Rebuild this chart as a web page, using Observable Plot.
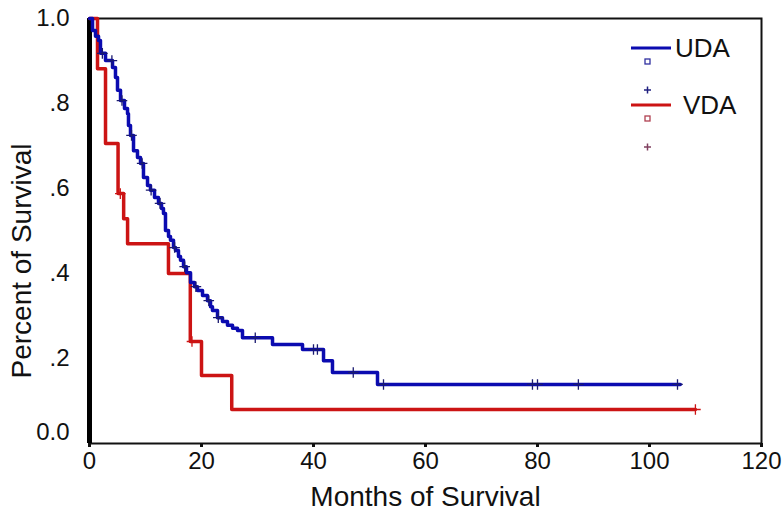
<!DOCTYPE html>
<html><head><meta charset="utf-8">
<script src="https://cdn.jsdelivr.net/npm/d3@7"></script>
<script src="https://cdn.jsdelivr.net/npm/@observablehq/plot@0.6"></script>
<style>
body{margin:0;background:#fff;}
#chart{position:relative;width:782px;height:513px;}
</style></head><body><div id="chart"></div>
<script>
// ---- data ----
const xTicks = [0, 20, 40, 60, 80, 100, 120];
const yTicks = [0.2, 0.4, 0.6, 0.8, 1.0];
const yTickLabels = [".2", ".4", ".6", ".8", "1.0"];
const yZeroLabel = "0.0";
const xLabel = "Months of Survival";
const yLabel = "Percent of Survival";
const seriesNames = ["UDA", "VDA"];

const udaTime = [0, 0.54, 1.07, 1.61, 1.96, 2.86, 4.11, 4.64, 5.0, 5.54, 6.25, 6.79, 6.96, 7.32, 7.86, 8.57, 9.11, 9.64, 10.36, 10.89, 11.61, 12.32, 12.86, 13.21, 13.57, 14.11, 14.46, 15.0, 15.36, 15.89, 16.25, 16.79, 17.32, 18.04, 18.75, 19.29, 20.18, 21.07, 21.61, 21.96, 22.86, 23.75, 24.64, 25.54, 26.43, 27.32, 32.68, 38.04, 41.79, 43.39, 51.43, 105.5];
const udaSurv = [1.0, 0.972, 0.958, 0.948, 0.918, 0.901, 0.885, 0.861, 0.831, 0.807, 0.788, 0.776, 0.748, 0.725, 0.689, 0.673, 0.659, 0.626, 0.607, 0.596, 0.579, 0.565, 0.553, 0.541, 0.501, 0.487, 0.478, 0.461, 0.454, 0.44, 0.431, 0.416, 0.402, 0.379, 0.369, 0.36, 0.348, 0.336, 0.322, 0.313, 0.296, 0.287, 0.278, 0.271, 0.266, 0.249, 0.233, 0.221, 0.195, 0.167, 0.139, 0.139];
const udaCensor = [2.3, 4.0, 5.8, 7.5, 9.4, 11.0, 12.6, 15.2, 17.0, 19.0, 21.3, 23.0, 29.6, 40.0, 40.7, 47.1, 52.5, 79.1, 80.0, 87.3, 105.0];

const vdaTime = [0, 1.43, 2.86, 5.1, 6.1, 6.8, 14.1, 18.0, 20.0, 25.4, 108.2];
const vdaSurv = [1.0, 0.882, 0.706, 0.588, 0.529, 0.47, 0.40, 0.24, 0.16, 0.08, 0.08];
const vdaCensor = [5.5, 18.3, 108.2];

// ---- build tables ----
const steps = (t, s) => t.map((d, i) => ({t: d, s: s[i]}));
const censor = (c, t, s) => c.map(d => ({t: d, s: s[Math.max(0, d3.bisectRight(t, d) - 1)]}));
const uda = steps(udaTime, udaSurv), vda = steps(vdaTime, vdaSurv);
const udaC = censor(udaCensor, udaTime, udaSurv), vdaC = censor(vdaCensor, vdaTime, vdaSurv);

const BLUE = "#0b0bb0", RED = "#cc1414";
const FONT = "'Liberation Sans', Arial, sans-serif";

const plot = Plot.plot({
  width: 782, height: 513,
  marginLeft: 89, marginRight: 21, marginTop: 18, marginBottom: 70,
  style: {fontFamily: FONT, fontSize: "20px", color: "#111", background: "#fff", overflow: "visible"},
  x: {domain: [0, 120]},
  y: {domain: [0, 1]},
  marks: [
    Plot.frame({stroke: "#111", strokeWidth: 2}),
    Plot.axisX({ticks: xTicks, tickSize: 4, tickPadding: 4, strokeWidth: 3, fontSize: 24, label: null}),
    Plot.axisY({ticks: yTicks, tickFormat: (d, i) => yTickLabels[i], tickSize: 0, tickPadding: 20, fontSize: 24, label: null}),
    Plot.axisY({ticks: [0], tickFormat: () => yZeroLabel, tickSize: 0, tickPadding: 20, fontSize: 24, dy: -11, label: null}),
    Plot.text([xLabel], {frameAnchor: "bottom", dy: 62, fontSize: 28, fill: "#111"}),
    Plot.text([yLabel], {frameAnchor: "left", textAnchor: "middle", rotate: -90, dx: -67, dy: 30, fontSize: 28, fill: "#111"}),
    Plot.ruleX([0], {stroke: "#000", strokeWidth: 5}),
    Plot.line(vda, {x: "t", y: "s", curve: "step-after", stroke: RED, strokeWidth: 3.5}),
    Plot.dot(vdaC, {x: "t", y: "s", symbol: "plus", r: 3.5, stroke: RED, strokeWidth: 1.3}),
    Plot.line(uda, {x: "t", y: "s", curve: "step-after", stroke: BLUE, strokeWidth: 3.5}),
    Plot.dot(udaC, {x: "t", y: "s", symbol: "plus", r: 3.5, stroke: "#1a1a70", strokeWidth: 1.3})
  ]
});
document.getElementById("chart").appendChild(plot);

// ---- legend (inside frame, top right) ----
const svg = d3.select(plot);
const lg = svg.append("g").attr("font-family", FONT).attr("text-anchor", "start");
const items = [
  {name: seriesNames[0], color: BLUE, y: 48, tx: 675, sq: "#3030a0", pl: "#202080"},
  {name: seriesNames[1], color: RED, y: 105, tx: 683, sq: "#b04050", pl: "#804060"}
];
items.forEach(it => {
  lg.append("line").attr("x1", 631).attr("x2", 671).attr("y1", it.y).attr("y2", it.y)
    .attr("stroke", it.color).attr("stroke-width", 3);
  lg.append("text").attr("x", it.tx).attr("y", it.y).attr("dy", "0.36em")
    .attr("font-size", 26).attr("fill", "#111").text(it.name);
  lg.append("rect").attr("x", 645).attr("y", it.y + 11).attr("width", 5).attr("height", 5)
    .attr("fill", "none").attr("stroke", it.sq).attr("stroke-width", 1.3);
  lg.append("path").attr("d", `M644,${it.y + 42}h7M647.5,${it.y + 38.5}v7`)
    .attr("stroke", it.pl).attr("stroke-width", 1.5);
});
</script></body></html>
